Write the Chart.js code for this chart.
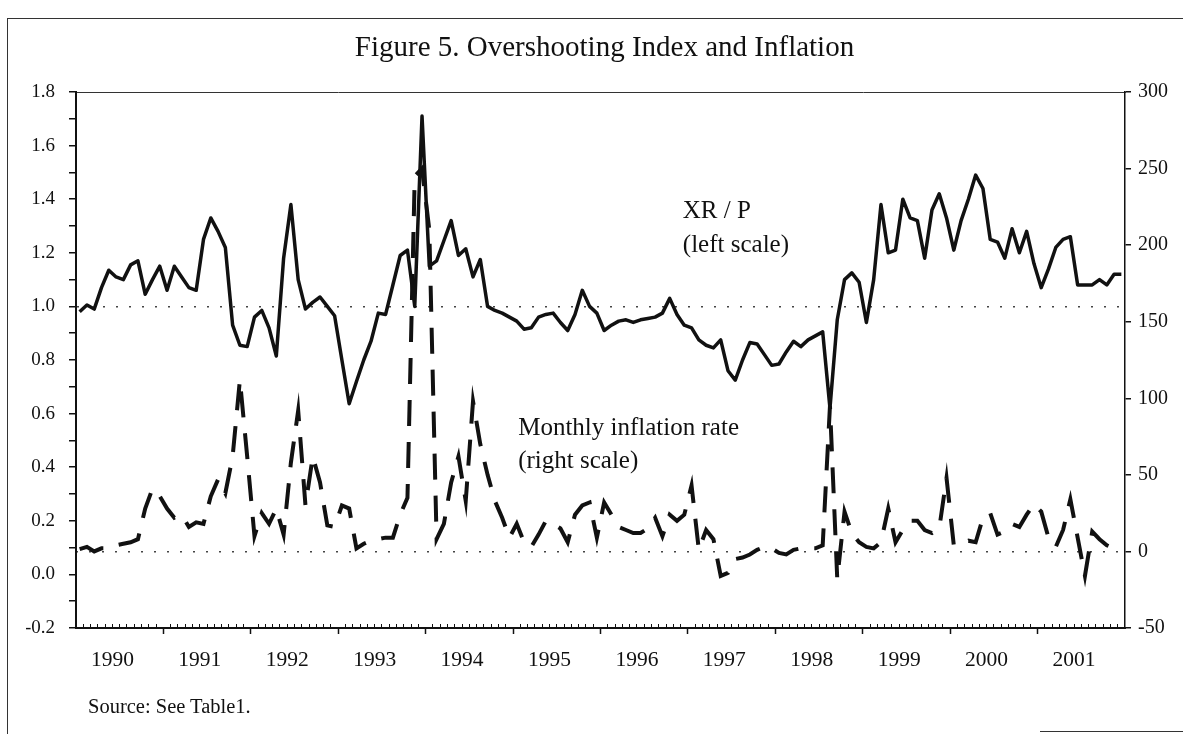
<!DOCTYPE html>
<html>
<head>
<meta charset="utf-8">
<title>Figure 5. Overshooting Index and Inflation</title>
<script src="https://cdn.jsdelivr.net/npm/chart.js@4.4.1/dist/chart.umd.min.js"></script>
<style>
  html, body { margin: 0; padding: 0; background: #fff; }
  #wrap { position: relative; width: 1183px; height: 734px; overflow: hidden; }
  #frame { position: absolute; left: 7px; top: 18px; width: 1176px; height: 716px;
           border-left: 1px solid #333; border-top: 1px solid #333; }
  #edge { position: absolute; left: 1040px; top: 731px; width: 143px; border-top: 1px solid #333; }
  #note { position: absolute; left: 88px; top: 695px; color: #111;
          font: 20.5px 'Liberation Serif', 'Times New Roman', serif; }
  canvas { position: absolute; left: 0; top: 0; }
</style>
</head>
<body>
<div id="wrap">
  <div id="frame"></div>
  <div id="edge"></div>
  <canvas id="overshooting_chart" width="1183" height="734"></canvas>
  <div id="note">Source: See Table1.</div>
</div>
<script>
var years = ['1990', '1991', '1992', '1993', '1994', '1995', '1996', '1997', '1998', '1999', '2000', '2001'];

// XR / P, monthly Jan 1990 - Dec 2001 (left scale)
var xrp = [
    0.98, 1.005, 0.99, 1.07, 1.135, 1.11, 1.10, 1.155, 1.17, 1.045, 1.10, 1.15,
    1.06, 1.15, 1.11, 1.07, 1.06, 1.25, 1.33, 1.28, 1.22, 0.93, 0.855, 0.85,
    0.96, 0.985, 0.92, 0.815, 1.18, 1.38, 1.10, 0.99, 1.015, 1.035, 1.00, 0.965,
    0.80, 0.637, 0.72, 0.80, 0.87, 0.975, 0.97, 1.08, 1.19, 1.21, 1.00, 1.71,
    1.15, 1.17, 1.245, 1.32, 1.19, 1.215, 1.11, 1.175, 1.00, 0.985, 0.975, 0.96,
    0.945, 0.915, 0.92, 0.96, 0.97, 0.975, 0.94, 0.91, 0.97, 1.06, 1.00, 0.975,
    0.91, 0.93, 0.945, 0.95, 0.94, 0.95, 0.955, 0.96, 0.975, 1.03, 0.97, 0.93,
    0.92, 0.875, 0.855, 0.845, 0.875, 0.76, 0.725, 0.80, 0.865, 0.86, 0.82, 0.78,
    0.785, 0.83, 0.87, 0.85, 0.875, 0.89, 0.905, 0.62, 0.95, 1.10, 1.125, 1.09,
    0.94, 1.10, 1.38, 1.20, 1.21, 1.40, 1.33, 1.32, 1.18, 1.36, 1.42, 1.33,
    1.21, 1.32, 1.40, 1.49, 1.44, 1.25, 1.24, 1.18, 1.29, 1.20, 1.28, 1.16,
    1.07, 1.14, 1.22, 1.25, 1.26, 1.08, 1.08, 1.08, 1.10, 1.08, 1.12, 1.12
];

// monthly inflation rate, % (right scale)
var inflation = [
    1.5, 3, 0, 2, 2, 4, 5, 6, 8, 28, 41, 36,
    28, 22, 24, 16, 19, 18, 36, 47, 38, 62, 112, 62,
    10, 25, 18, 28, 11, 58, 92, 30, 62, 45, 17, 16,
    30, 28, 2, 5, 7, 8, 9, 9, 24, 35, 245, 250,
    210, 8, 18, 45, 62, 33, 98, 70, 50, 33, 22, 9,
    18, 6, 3, 11, 20, 18, 15, 6, 24, 30, 32, 9,
    32, 24, 16, 14, 12, 12, 15, 22, 10, 24, 20, 24,
    43, 1, 14, 8, -16, -14, -5, -4, -2, 1, 3, 2,
    -1, -2, 1, 2, 2, 2, 4, 95, -18, 26, 12, 6,
    3, 2, 6, 28, 6, 14, 20, 20, 14, 12, 15, 48,
    4, 5, 7, 6, 22, 25, 11, 13, 18, 16, 24, 31,
    26, 9, 3, 14, 34, 9, -16, 13, 8, 4, 2, 1
];

var leftTicks = [-0.2, -0.1, 0.0, 0.1, 0.2, 0.3, 0.4, 0.5, 0.6, 0.7, 0.8, 0.9, 1.0, 1.1, 1.2, 1.3, 1.4, 1.5, 1.6, 1.7, 1.8];
var rightTicks = [-50, 0, 50, 100, 150, 200, 250, 300];

var seriesNotes = [
    { text: 'XR / P', x: 82.8, y: 1.356, axis: 'y' },
    { text: '(left scale)', x: 82.8, y: 1.229, axis: 'y' },
    { text: 'Monthly inflation rate', x: 60.2, y: 80.6, axis: 'y1' },
    { text: '(right scale)', x: 60.2, y: 59, axis: 'y1' }
];

var SERIF = "'Liberation Serif', 'Times New Roman', serif";
var INK = '#111';

function toPoints(values) {
    return values.map(function (v, i) { return { x: i, y: v }; });
}

function yearTicks(offset) {
    return years.map(function (y, k) { return { value: offset + 12 * k }; });
}

function monthTicks() {
    var ticks = [];
    for (var k = 1; k < xrp.length; k++) {
        if (k % 12 !== 0) ticks.push({ value: k - 0.5 });
    }
    return ticks;
}

var notesPlugin = {
    id: 'seriesNotes',
    afterDatasetsDraw: function (chart) {
        var ctx = chart.ctx;
        ctx.save();
        ctx.font = '25px ' + SERIF;
        ctx.fillStyle = INK;
        ctx.textAlign = 'left';
        ctx.textBaseline = 'middle';
        seriesNotes.forEach(function (n) {
            ctx.fillText(n.text, chart.scales.x.getPixelForValue(n.x), chart.scales[n.axis].getPixelForValue(n.y));
        });
        ctx.restore();
    }
};

function drawOvershootingChart() {
    var element = document.getElementById('overshooting_chart');
    if (!element) {
        return;
    }

    Chart.defaults.font.family = SERIF;
    Chart.defaults.color = INK;

    var xMin = -0.5;
    var xMax = xrp.length - 0.5;

    var config = {
        type: 'line',
        data: {
            datasets: [
                {
                    label: 'XR / P',
                    data: toPoints(xrp),
                    xAxisID: 'x',
                    yAxisID: 'y',
                    borderColor: INK,
                    borderWidth: 3.5,
                    borderJoinStyle: 'round',
                    pointRadius: 0,
                    tension: 0
                },
                {
                    label: 'Monthly inflation rate',
                    data: toPoints(inflation),
                    xAxisID: 'x',
                    yAxisID: 'y1',
                    borderColor: INK,
                    borderWidth: 4,
                    borderDash: [26, 16],
                    borderCapStyle: 'butt',
                    pointRadius: 0,
                    tension: 0
                }
            ]
        },
        options: {
            responsive: false,
            animation: false,
            events: [],
            layout: {
                padding: { left: 26, right: 0, top: 0, bottom: 0 }
            },
            plugins: {
                legend: { display: false },
                tooltip: { enabled: false },
                title: {
                    display: true,
                    text: 'Figure 5. Overshooting Index and Inflation',
                    color: INK,
                    font: { size: 29, weight: 'normal' },
                    padding: { top: 31, bottom: 26.2 }
                }
            },
            scales: {
                // monthly ticks, pointing into the plot
                xm: {
                    type: 'linear',
                    position: 'bottom',
                    min: xMin,
                    max: xMax,
                    afterBuildTicks: function (axis) { axis.ticks = monthTicks(); },
                    afterFit: function (axis) { axis.height = 0; },
                    ticks: { display: false },
                    grid: { drawOnChartArea: false, tickLength: -4, tickColor: INK, tickWidth: 1 },
                    border: { display: true, color: INK, width: 2 }
                },
                // year boundaries
                xM: {
                    type: 'linear',
                    position: 'bottom',
                    min: xMin,
                    max: xMax,
                    afterBuildTicks: function (axis) { axis.ticks = yearTicks(11.5).slice(0, -1); },
                    afterFit: function (axis) { axis.height = 0; },
                    ticks: { display: false },
                    grid: { drawOnChartArea: false, tickLength: 6, tickColor: INK, tickWidth: 1.5 },
                    border: { display: false }
                },
                x: {
                    type: 'linear',
                    position: 'bottom',
                    min: xMin,
                    max: xMax,
                    afterBuildTicks: function (axis) { axis.ticks = yearTicks(4.5); },
                    afterFit: function (axis) { axis.height = 106; },
                    ticks: {
                        autoSkip: false,
                        maxRotation: 0,
                        padding: 19,
                        color: INK,
                        font: { size: 21.5 },
                        callback: function (value, index) { return years[index]; }
                    },
                    grid: { display: false, drawTicks: false },
                    border: { display: false }
                },
                xt: {
                    type: 'linear',
                    position: 'top',
                    min: xMin,
                    max: xMax,
                    afterFit: function (axis) { axis.height = 0; },
                    ticks: { display: false },
                    grid: { display: false, drawTicks: false },
                    border: { display: true, color: '#333', width: 1 }
                },
                y: {
                    type: 'linear',
                    position: 'left',
                    min: -0.2,
                    max: 1.8,
                    afterBuildTicks: function (axis) {
                        axis.ticks = leftTicks.map(function (v) { return { value: v }; });
                    },
                    afterFit: function (axis) { axis.width = 50; },
                    ticks: {
                        autoSkip: false,
                        padding: 14,
                        color: INK,
                        font: { size: 19 },
                        callback: function (value) {
                            var tenths = Math.round(value * 10);
                            return tenths % 2 === 0 ? (tenths / 10).toFixed(1) : '';
                        }
                    },
                    grid: {
                        color: function (c) {
                            return c.tick && Math.abs(c.tick.value - 1) < 1e-9 ? '#444' : 'rgba(0,0,0,0)';
                        },
                        lineWidth: 1.5,
                        tickLength: 7,
                        tickColor: INK,
                        tickWidth: 1.5
                    },
                    border: { display: true, color: INK, width: 2, dash: [2, 11] }
                },
                y1: {
                    type: 'linear',
                    position: 'right',
                    min: -50,
                    max: 300,
                    afterBuildTicks: function (axis) {
                        axis.ticks = rightTicks.map(function (v) { return { value: v }; });
                    },
                    afterFit: function (axis) { axis.width = 58; },
                    ticks: {
                        autoSkip: false,
                        padding: 7,
                        color: INK,
                        font: { size: 20 },
                        callback: function (value) { return String(value); }
                    },
                    grid: {
                        color: function (c) {
                            return c.tick && c.tick.value === 0 ? '#444' : 'rgba(0,0,0,0)';
                        },
                        lineWidth: 1.5,
                        tickLength: 6,
                        tickColor: INK,
                        tickWidth: 1.5
                    },
                    border: { display: true, color: INK, width: 1.5, dash: [2, 11] }
                }
            }
        },
        plugins: [notesPlugin]
    };

    new Chart(element, config);
}

drawOvershootingChart();
</script>
</body>
</html>
